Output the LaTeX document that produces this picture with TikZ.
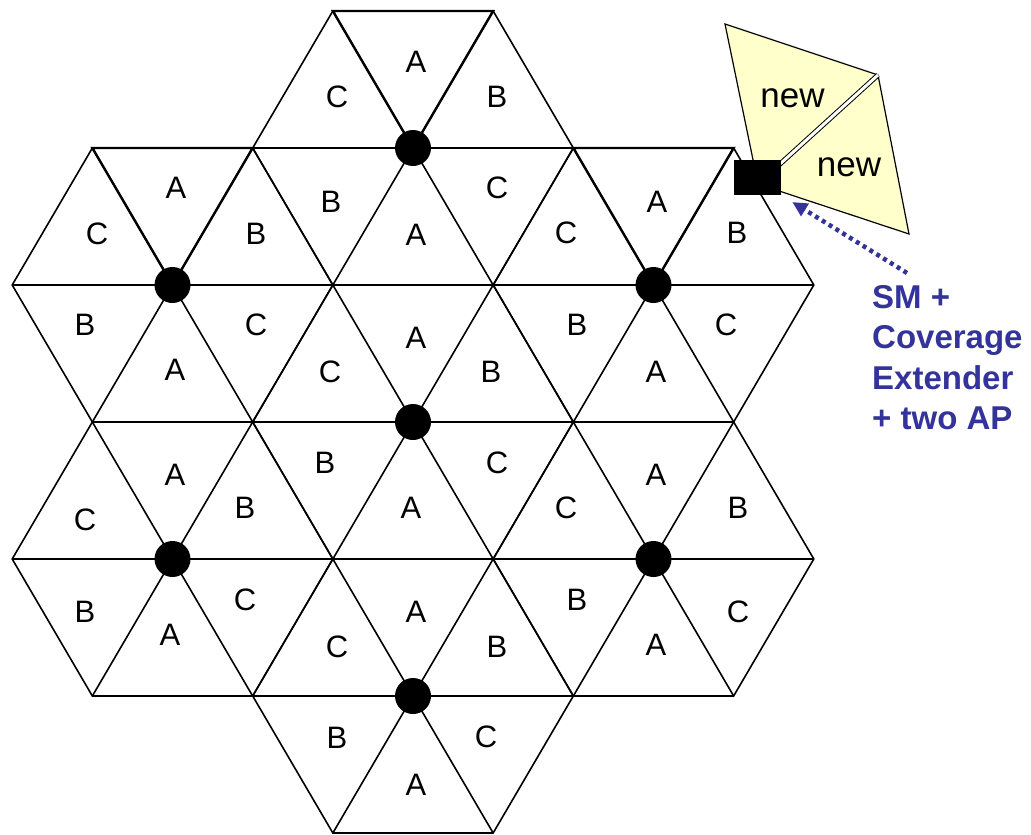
\documentclass[tikz,border=0pt]{standalone}
\usepackage{fontspec}
\setmainfont{Liberation Sans}
\usetikzlibrary{arrows.meta}
\definecolor{newyellow}{HTML}{FFFFCC}
\definecolor{apblue}{HTML}{333399}
\begin{document}
\begin{tikzpicture}[x=1pt,y=-1pt,
  grid/.style={line width=1.6pt, line join=miter},
  topline/.style={line width=2.4pt, line join=miter},
  lab/.style={font=\fontsize{31}{31}\selectfont, inner sep=0pt},
  newlab/.style={font=\fontsize{35}{35}\selectfont, inner sep=0pt},
  apdot/.style={circle, fill=black, minimum size=36pt, inner sep=0pt},
  smbox/.style={fill=black, minimum width=47pt, minimum height=35pt, inner sep=0pt},
  bluetext/.style={font=\fontsize{33}{33}\selectfont\bfseries, text=apblue, inner sep=0pt, anchor=base west},
  bluearrow/.style={apblue, line width=4.5pt, dash pattern=on 4pt off 4pt, shorten >=13pt,
     -{Triangle[length=15pt,width=14pt]}}]
\useasboundingbox (0,0) rectangle (1031,835);
\def\s{160.3}
\def\hh{137}
% hexagons with spokes
\foreach \n/\cx/\cy in {h1/413/148, h2/172.5/285, h3/653.5/285, h4/413/422, h5/172.5/559, h6/653.5/559, h7/413/696}{
  \coordinate (\n) at (\cx,\cy);
  \draw[grid] ({\cx+\s},\cy) -- ({\cx+\s/2},{\cy+\hh}) -- ({\cx-\s/2},{\cy+\hh}) -- ({\cx-\s},\cy)
     -- ({\cx-\s/2},{\cy-\hh}) -- ({\cx+\s/2},{\cy-\hh}) -- cycle;
  \draw[grid] ({\cx+\s},\cy) -- ({\cx-\s},\cy);
  \draw[grid] ({\cx+\s/2},{\cy+\hh}) -- ({\cx-\s/2},{\cy-\hh});
  \draw[grid] ({\cx-\s/2},{\cy+\hh}) -- ({\cx+\s/2},{\cy-\hh});
}
% thicker top triangles of the upper hexagons
\foreach \cx/\cy in {413/148, 172.5/285, 653.5/285}{
  \draw[topline] ({\cx-\s/2},{\cy-\hh}) -- (\cx,\cy) -- ({\cx+\s/2},{\cy-\hh}) -- cycle;
}
% labels
\foreach \x/\y/\t [count=\i] in {
  416/62/A, 337/97/C, 497/97/B, 331/202/B, 497/188/C, 416/235/A,
  176/188/A, 97/234/C, 256/234/B, 85/325/B, 256/325/C, 175/370/A,
  657/202/A, 566/233/C, 737/233/B, 577/325/B, 726/325/C, 656/372/A,
  416/338/A, 330/372/C, 491/372/B, 325/463/B, 497/463/C, 411/508/A,
  175/475/A, 85/520/C, 245/508/B, 85/612/B, 245/600/C, 170/635/A,
  656/475/A, 566/508/C, 738/508/B, 577/600/B, 738/612/C, 656/645/A,
  416/612/A, 337/647/C, 497/647/B, 337/738/B, 486/737/C, 416/785/A}{
  \node[lab] (l\i) at (\x,\y) {\t};
}
% access point dots
\foreach \n in {h1,h2,h3,h4,h5,h6,h7}{
  \node[apdot] (d\n) at (\n) {};
}
% new coverage area
\coordinate (ya) at (725,24);
\coordinate (yb) at (878,75);
\coordinate (yc) at (909,234);
\coordinate (yd) at (758,184);
\draw[fill=newyellow, line width=1.2pt, line join=miter] (ya) -- (yb) -- (yc) -- (yd) -- cycle;
\draw[line width=1pt, double=white, double distance=3pt] (yd) -- (yb);
\node[newlab] (n1) at (792.5,98) {new};
\node[newlab] (n2) at (849,167) {new};
\node[smbox] (sm) at (757.5,177.5) {};
% arrow and caption
\coordinate (tail) at (907,273);
\draw[bluearrow] (tail) -- (sm.south east);
\node[bluetext] (t1) at (872,308) {SM +};
\node[bluetext] (t2) at (872,348.5) {Coverage};
\node[bluetext] (t3) at (872,389) {Extender};
\node[bluetext] (t4) at (872,429.5) {+ two AP};
\end{tikzpicture}
\end{document}
